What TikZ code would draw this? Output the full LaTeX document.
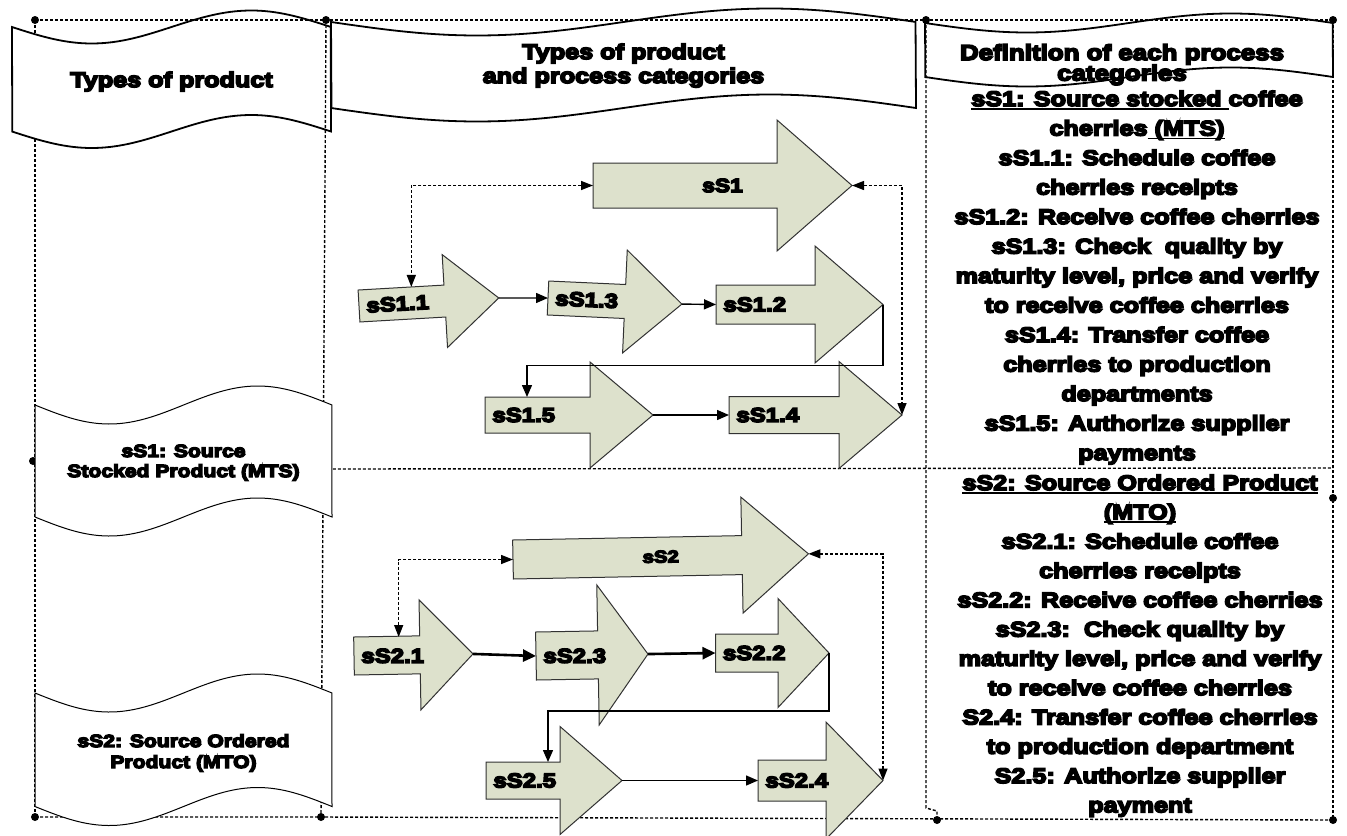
\documentclass[tikz,border=0pt]{standalone}
\usepackage{fontspec}
\setmainfont{Liberation Sans}
\newfontfamily\heavy{Liberation Sans Bold}[FakeBold=8,FakeStretch=1.2]
\usetikzlibrary{arrows.meta,calc}

\definecolor{procfill}{RGB}{221,225,204}
\definecolor{procline}{RGB}{50,50,50}

\newcommand\fs[1]{\fontsize{#1}{#1}\selectfont}
% thick underline
\newcommand\uln[1]{\setbox0=\hbox{#1}\rlap{\rule[-1.8pt]{\wd0}{0.8pt}}\box0}

% block arrow: [rotation]{name}{x left}{y centre}{x head base}{x tip}{half body}{half head}
\newcommand\procarrow[8][0]{%
  \begin{scope}[shift={(#3,#4)}, rotate=#1]
    \draw[procshape] (0,-#7) -- ({#5-#3},-#7) -- ({#5-#3},-#8) -- ({#6-#3},0)
      -- ({#5-#3},#8) -- ({#5-#3},#7) -- (0,#7) -- cycle;
    \coordinate (#2-w) at (0,0);
    \coordinate (#2-e) at ({#6-#3},0);
    \coordinate (#2-nw) at (0,-#7);
    \coordinate (#2-ne) at ({#5-#3},-#7);
    \coordinate (#2-lbl) at (7,0);
    \coordinate (#2-c) at ({(#6-#3)/2},0);
  \end{scope}}

% wavy banner: {style}{name}{x0}{x1}{y top}{y bottom}{amplitude}
\newcommand\wavebanner[7]{%
  \draw[#1] plot[domain=0:1, samples=70, variable=\u] ({#3+\u*(#4-#3)}, {#5+#7*sin(360*\u)})
    -- plot[domain=1:0, samples=70, variable=\u] ({#3+\u*(#4-#3)}, {#6+#7*sin(360*\u)}) -- cycle;
  \coordinate (#2) at ({(#3+#4)/2}, {(#5+#6)/2});}

% centred lines of text: {name}{size}{x}{first baseline}{pitch}{lines}
\newcommand\textstack[6]{%
  \foreach \rowtext [count=\i] in {#6} {%
    \node[txt, font=\heavy\fs{#2}, anchor=base] (#1-\i) at (#3, {#4+(\i-1)*#5}) {\rowtext};}}

\begin{document}
\begin{tikzpicture}[x=0.5pt, y=-0.5pt,
  frameline/.style={line width=0.7pt, dash pattern=on 1.5pt off 1pt},
  headwave/.style={draw=black, line width=0.9pt},
  sidewave/.style={draw=black, fill=white, line width=0.5pt},
  procshape/.style={draw=procline, fill=procfill, line width=0.5pt, line join=miter},
  flow/.style={line width=0.7pt, -{Triangle[length=6pt,width=5pt]}},
  heavyflow/.style={line width=1.3pt, -{Triangle[length=6.5pt,width=6pt]}},
  dotlink/.style={line width=0.7pt, dash pattern=on 1.5pt off 1pt,
    {Triangle[length=6pt,width=4.5pt]}-{Triangle[length=6pt,width=4.5pt]}},
  txt/.style={inner sep=0pt},
  albl/.style={inner sep=0pt, font=\heavy\fs{10}}]

\clip (0,0) rectangle (1347,835);
\fill[white] (0,0) rectangle (1347,835);

% ---- dotted frame ----
\coordinate (ftl) at (35,20);   \coordinate (ft1) at (326,20);
\coordinate (ft2) at (926,20);  \coordinate (ftr) at (1333,20);
\coordinate (fbl) at (35,817);  \coordinate (fb1) at (321,817);
\coordinate (fb2) at (937,820); \coordinate (fbr) at (1333,820);
\coordinate (fml) at (33,461);  \coordinate (fmr) at (1333,468);
\coordinate (frm) at (1333,498);

\draw[frameline] (ftl) -- (ftr);
\draw[frameline] (ftl) -- (35,34);
\draw[frameline] (35,139) -- (fbl);
\draw[frameline] (ft1) -- (fb1);
\draw[frameline] (ftr) -- (fbr);
\draw[frameline] (fbl) -- (fb1) -- (fbr);
\draw[frameline] (fml) -- (330,469) -- (fmr);
\draw[frameline] (ft2) -- (926,808) -- (937,811) -- (fb2);
\foreach \p in {ftl,ft1,ft2,ftr,fbl,fb1,fb2,fbr,fml,frm}
  \fill (\p) circle[radius=2pt];

% ---- banners ----
\wavebanner{headwave}{hdL}{12}{331}{27}{131.5}{16.5}
\wavebanner{headwave}{hdM}{331}{916}{22}{108}{13.5}
\wavebanner{headwave}{hdR}{925}{1333}{23}{77}{9.5}
\wavebanner{sidewave}{bnA}{35}{332}{405}{517}{19}
\wavebanner{sidewave}{bnB}{35}{332}{693}{806.5}{19}

\textstack{hdLt}{10.5}{171.5}{87}{24}{Types of product}
\textstack{hdMt}{10.5}{623.5}{59}{24}{Types of product,and process categories}
\textstack{hdRt}{10.8}{1122}{60}{20.5}{Definition of each process,categories}
\textstack{bnAt}{8.8}{183.5}{457}{20}{sS1: Source,Stocked Product (MTS)}
\textstack{bnBt}{8.8}{183.5}{747}{21}{sS2: Source Ordered,Product (MTO)}

% ---- definitions ----
\textstack{defA}{10.5}{1137}{106}{29.5}{%
  {\uln{sS1: Source stocked\ }coffee},
  {cherries\uln{\ (MTS)}},
  {sS1.1: Schedule coffee},
  {cherries receipts},
  {sS1.2: Receive coffee cherries},
  {sS1.3: Check\ \ quality by},
  {maturity level, price and verify},
  {to receive coffee cherries},
  {sS1.4: Transfer coffee},
  {cherries to production},
  {departments},
  {sS1.5: Authorize supplier},
  {payments}}
\textstack{defB}{10.5}{1140}{490}{29.3}{%
  {\uln{sS2: Source Ordered Product}},
  {\uln{(MTO)}},
  {sS2.1: Schedule coffee},
  {cherries receipts},
  {sS2.2: Receive coffee cherries},
  {sS2.3:\ \ Check quality by},
  {maturity level, price and verify},
  {to receive coffee cherries},
  {S2.4: Transfer coffee cherries},
  {to production department},
  {S2.5: Authorize supplier},
  {payment}}

% ---- process arrows, stocked product ----
\procarrow{s1}{593}{185.5}{777}{852}{22.5}{65.5}
\procarrow[3.3]{s11}{359}{306}{445}{499}{16}{46.5}
\procarrow[-2.6]{s13}{548}{298}{625}{682}{17}{51.5}
\procarrow{s12}{716}{304.5}{815}{883}{19.5}{58.5}
\procarrow{s15}{485}{415}{590}{653}{18}{53}
\procarrow{s14}{729}{415}{839}{902}{18.5}{53.5}

\node[albl, font=\heavy\fs{9.5}] (s1-t) at (s1-c) {sS1};
\node[albl, anchor=west, rotate=3.3] (s11-t) at (s11-lbl) {sS1.1};
\node[albl, anchor=west, rotate=-2.6] (s13-t) at (s13-lbl) {sS1.3};
\node[albl, anchor=west] (s12-t) at (s12-lbl) {sS1.2};
\node[albl, anchor=west] (s15-t) at (s15-lbl) {sS1.5};
\node[albl, anchor=west] (s14-t) at (s14-lbl) {sS1.4};

\coordinate (s11-n) at ($(s11-nw)!0.62!(s11-ne)$);
\coordinate (s15-n) at ($(s15-nw)+(42,0)$);

\draw[flow] (s11-e) -- (s13-w);
\draw[flow] (s13-e) -- (s12-w);
\draw[flow] (s12-e) -- ++(0,61) -| (s15-n);
\draw[flow] (s15-e) -- (s14-w);
\draw[dotlink] (s1-w) -| (s11-n);
\draw[dotlink] (s1-e) -| (s14-e);

% ---- process arrows, ordered product ----
\procarrow[1.1]{s2}{513}{559.5}{742}{808.5}{19.5}{58}
\procarrow[1]{s21}{354}{656}{420}{473}{19}{55}
\procarrow[1]{s23}{536}{656}{598}{648}{24}{70}
\procarrow{s22}{715.5}{653}{778}{829}{19}{54.5}
\procarrow{s25}{486}{780.5}{560}{622}{18.5}{54}
\procarrow{s24}{758}{780.5}{826}{883}{20.5}{58.5}

\node[albl, font=\heavy\fs{8.5}, rotate=1.1] (s2-t) at (s2-c) {sS2};
\node[albl, anchor=west] (s21-t) at (s21-lbl) {sS2.1};
\node[albl, anchor=west] (s23-t) at (s23-lbl) {sS2.3};
\node[albl, anchor=west] (s22-t) at (s22-lbl) {sS2.2};
\node[albl, anchor=west] (s25-t) at (s25-lbl) {sS2.5};
\node[albl, anchor=west] (s24-t) at (s24-lbl) {sS2.4};

\coordinate (s21-n) at ($(s21-nw)+(45,0)$);
\coordinate (s25-n) at ($(s25-nw)+(62,0)$);

\draw[heavyflow] (s21-e) -- (s23-w);
\draw[heavyflow] (s23-e) -- (s22-w);
\draw[flow] (s22-e) -- ++(0,58) -| (s25-n);
\draw[flow] (s25-e) -- (s24-w);
\draw[dotlink] (s2-w) -| (s21-n);
\draw[dotlink] (s2-e) -| (s24-e);

\end{tikzpicture}
\end{document}
